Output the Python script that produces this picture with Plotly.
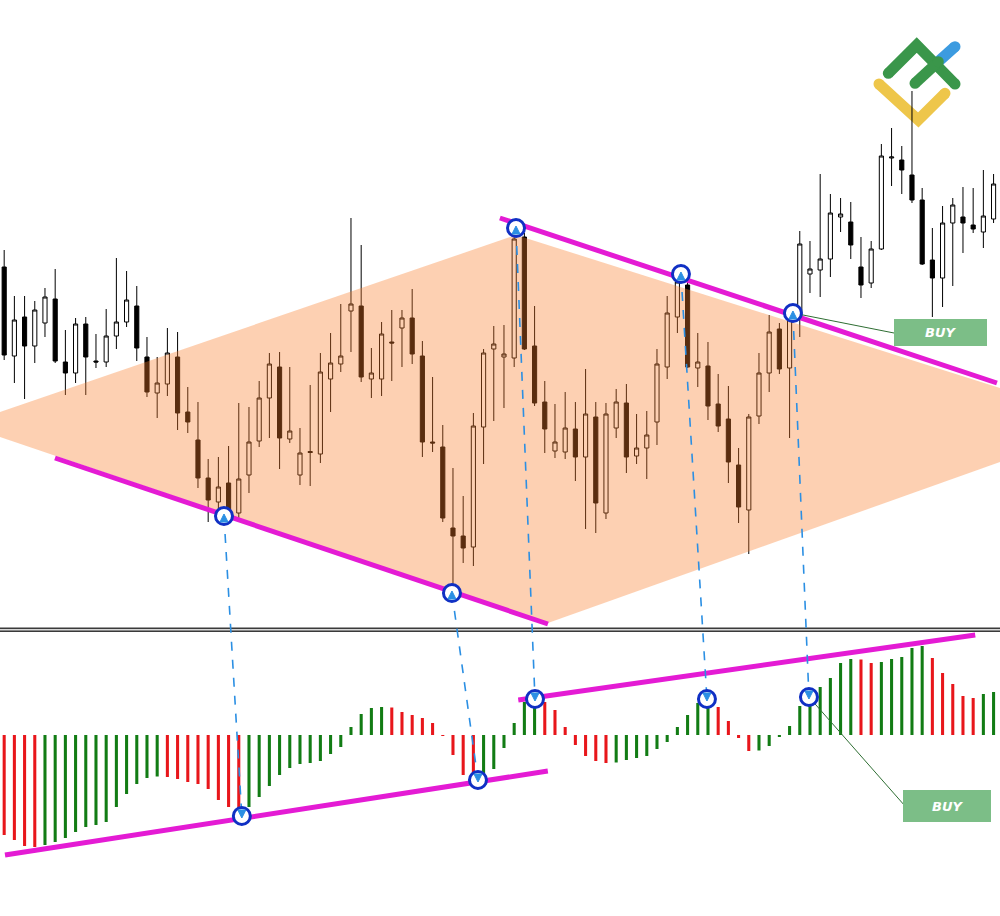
import plotly.graph_objects as go

# ---------------- data ----------------
# price candles (arbitrary price units)
opens = [733, 644, 683, 654, 677, 701, 638, 627, 676, 639, 638, 664, 678, 694, 643, 607, 616, 643, 588, 560,
         522, 498, 517, 487, 525, 559, 602, 633, 561, 525, 548.5, 546, 621, 636, 689, 694, 621, 621, 658, 672,
         682, 644, 558, 553, 472, 464, 453, 573, 651, 643, 642, 763, 654, 598, 549, 548, 571, 543, 583, 487,
         572, 597, 544, 552, 578, 633, 683, 715, 632, 634, 596, 581, 535, 490, 584, 627, 671, 632, 684, 726,
         730, 741, 783, 778, 733, 717, 751, 842, 840, 825, 800, 740, 722, 777, 783, 775, 768, 781]
highs = [750, 704, 704, 699, 712, 731, 670, 682, 683, 666, 691, 742, 729, 714, 663, 643, 672, 668, 613, 598,
         541, 543, 554, 597, 593, 619, 647, 648, 633, 572, 615, 647, 667, 696, 782, 755, 652, 678, 690, 690,
         711, 659, 623, 575, 532, 504, 587, 651, 674, 675, 772, 767, 694, 619, 596, 608, 598, 631, 598, 597,
         611, 616, 586, 589, 651, 704, 725, 720, 667, 658, 626, 614, 552, 586, 647, 685, 677, 687, 769, 759,
         826, 806, 802, 798, 763, 759, 856, 872, 854, 909, 812, 772, 794, 802, 813, 812, 830, 826]
lows = [640, 617, 601, 637, 663, 637, 605, 617, 605, 632, 633, 651, 673, 639, 603, 582, 604, 570, 567, 512,
        478, 487, 482, 480, 507, 553, 562, 531, 557, 515, 514, 537, 588, 628, 648, 618, 602, 604, 619, 633,
        636, 543, 548, 478, 415, 437, 434, 536, 579, 592, 633, 650, 594, 547, 542, 541, 519, 471, 467, 481,
        562, 527, 536, 521, 555, 621, 667, 632, 613, 580, 568, 517, 477, 446, 576, 608, 626, 562, 663, 707,
        703, 723, 768, 741, 702, 712, 750, 814, 806, 797, 735, 683, 693, 714, 747, 767, 752, 777]
closes = [645, 680, 654, 690, 703, 639, 627, 676, 643, 638, 664, 678, 700, 652, 608, 617, 647, 587, 578, 522,
          500, 513, 491, 521, 558, 602, 636, 562, 569, 547, 547.5, 628, 637, 644, 696, 623, 627, 666, 657, 682,
          646, 558, 557, 482, 464, 452, 574, 647, 656, 646, 761, 651, 597, 571, 558, 572, 543, 586, 497, 586,
          598, 543, 552, 565, 636, 687, 718, 633, 638, 594, 574, 538, 493, 583, 627, 668, 631, 681, 756, 731,
          741, 787, 786, 755, 715, 751, 844, 843, 830, 800, 736, 722, 777, 795, 777, 771, 784, 816]

# oscillator histogram
ao_values = [-100, -105, -111, -112, -110, -107, -103, -97, -92, -90, -87, -72, -59, -49, -43, -41.5, -42, -44, -47, -49,
             -54, -65, -72, -78, -72, -62, -51, -40, -33, -29, -28, -26, -19, -12, 8, 21, 27, 28, 27.5, 23,
             20, 17, 12, -1, -20, -40, -45, -38, -34, -13, 12, 33, 35, 33, 25, 8, -10, -21, -26, -28,
             -27.5, -25, -23, -21, -14, -7, 8, 20, 32, 33, 28, 14, -3, -16, -15.5, -11, -2, 9, 29, 33,
             48, 57, 72, 76, 75.5, 72, 73, 76, 78, 87, 89, 77, 62, 51, 39, 37, 41, 43]
ao_dirs = "RRRR" + "G" * 12 + "R" * 8 + "G" * 14 + "R" * 9 + "G" * 6 + "R" * 7 + "G" * 10 + "R" * 4 + "G" * 10 + "RR" + "G" * 5 + "R" * 5 + "GG"

# channel / trend lines (bar index, value)
price_lines = [((4.98, 542), (53.31, 376)), ((48.6, 782), (97.33, 617))]
ao_lines = [((0.08, -120), (53.3, -36)), ((50.4, 35), (95.2, 100))]
# diamond zone (bar index, price)
zone_x = [-0.41, 50.18, 97.63, 97.63, 53.31, -0.41]
zone_y = [588, 765, 612, 538, 377, 563]
# divergence points: price point and oscillator point
price_pts = [(21.55, 484), (43.9, 407), (50.18, 772), (66.35, 726), (77.33, 687)]
ao_pts = [(23.3, -81), (46.45, -45), (52.04, 36), (68.9, 36), (78.9, 38)]
signal_label = "BUY"

# ---------------- layout helpers ----------------
W, H = 1000, 916
XR = [-0.41, 97.63]
Y1R = [372, 1000]
Y1D = [1 - 628 / H, 1]
Y2R = [-181, 103]
Y2D = [0, 284 / H]


def px_x(v):
    return (v - XR[0]) / (XR[1] - XR[0])


def py(v, rng, dom):
    return dom[0] + (v - rng[0]) / (rng[1] - rng[0]) * (dom[1] - dom[0])


def pp(x, y):  # pixel -> paper, decorations only
    return x / W, 1 - y / H


n = len(opens)
xs = list(range(n))

fig = go.Figure()
fig.add_trace(go.Candlestick(
    x=xs, open=opens, high=highs, low=lows, close=closes,
    increasing=dict(line=dict(color="black", width=1), fillcolor="white"),
    decreasing=dict(line=dict(color="black", width=1), fillcolor="black"),
    whiskerwidth=0, xaxis="x", yaxis="y", hoverinfo="skip", showlegend=False))

colors = ["#127C14" if d == "G" else "#E8161B" for d in ao_dirs]
fig.add_trace(go.Bar(x=xs, y=ao_values, marker=dict(color=colors, line=dict(width=0)),
                     width=0.3, xaxis="x", yaxis="y2", showlegend=False, hoverinfo="skip"))

shapes = []
# separator between panes
x0p, y0p = pp(0, 628.3)
_, y1p = pp(0, 631.3)
shapes.append(dict(type="rect", xref="paper", yref="paper", x0=0, x1=1, y0=y1p, y1=y0p,
                   fillcolor="#d6d6d6", line=dict(width=0), layer="below"))
for yy in (628.3, 631.3):
    shapes.append(dict(type="line", xref="paper", yref="paper", x0=0, x1=1, y0=pp(0, yy)[1], y1=pp(0, yy)[1],
                       line=dict(color="#3a3a3a", width=1.4)))

# logo (decoration) drawn below the candles
LOGO_AX, LOGO_AY = pp(918, 83)


def logo_stroke(pts, color, w=11):
    path = "M " + " L ".join(f"{x - 918:.1f},{83 - y:.1f}" for x, y in pts)
    shapes.append(dict(type="path", xref="paper", yref="paper", xsizemode="pixel", ysizemode="pixel",
                       xanchor=LOGO_AX, yanchor=LOGO_AY, path=path, line=dict(color=color, width=w),
                       layer="below"))
    r = w / 2
    for x, y in (pts[0], pts[-1]):
        shapes.append(dict(type="circle", xref="paper", yref="paper", xsizemode="pixel", ysizemode="pixel",
                           xanchor=LOGO_AX, yanchor=LOGO_AY, x0=x - 918 - r, x1=x - 918 + r,
                           y0=83 - y - r, y1=83 - y + r, fillcolor=color, line=dict(width=0), layer="below"))


logo_stroke([(879, 84), (918.3, 120), (945, 93.3)], "#EEC64A")
logo_stroke([(938.3, 61.7), (955, 46.7)], "#3C9BE0")
logo_stroke([(888.3, 73.3), (916.7, 45), (955, 84)], "#3A964A")
logo_stroke([(915, 83.3), (938.3, 61.7)], "#3A964A")

# diamond zone, translucent, above the candles
zpath = "M " + " L ".join(f"{x},{y}" for x, y in zip(zone_x, zone_y)) + " Z"
shapes.append(dict(type="path", xref="x", yref="y", path=zpath, fillcolor="rgba(250,125,42,0.36)",
                   line=dict(width=0), layer="above"))

MAG = "#E41BD4"
for (a, b) in price_lines:
    shapes.append(dict(type="line", xref="x", yref="y", x0=a[0], y0=a[1], x1=b[0], y1=b[1],
                       line=dict(color=MAG, width=5), layer="above"))
for (a, b) in ao_lines:
    shapes.append(dict(type="line", xref="x", yref="y2", x0=a[0], y0=a[1], x1=b[0], y1=b[1],
                       line=dict(color=MAG, width=5), layer="above"))

BLUE_L = "#2B8FE3"
# dashed connectors
for (p, q) in zip(price_pts, ao_pts):
    shapes.append(dict(type="line", xref="paper", yref="paper",
                       x0=px_x(p[0]), y0=py(p[1], Y1R, Y1D), x1=px_x(q[0]), y1=py(q[1], Y2R, Y2D),
                       line=dict(color=BLUE_L, width=1.6, dash="dash"), layer="above"))

# BUY connectors
bx1 = pp(894, 333)
bx2 = pp(905, 806)
p = price_pts[-1]
q = ao_pts[-1]
shapes.append(dict(type="line", xref="paper", yref="paper", x0=px_x(p[0]), y0=py(p[1], Y1R, Y1D),
                   x1=bx1[0], y1=bx1[1], line=dict(color="#2F6E33", width=1), layer="above"))
shapes.append(dict(type="line", xref="paper", yref="paper", x0=px_x(q[0]), y0=py(q[1], Y2R, Y2D),
                   x1=bx2[0], y1=bx2[1], line=dict(color="#2F6E33", width=1), layer="above"))


def marker(xv, yv, yref, up):
    shapes.append(dict(type="circle", xref="x", yref=yref, xsizemode="pixel", ysizemode="pixel",
                       xanchor=xv, yanchor=yv, x0=-8.5, x1=8.5, y0=-8.5, y1=8.5,
                       fillcolor="white", line=dict(color="#1030C4", width=3), layer="above"))
    tri = "M -4,-6 L 4,-6 L 0,2 Z" if up else "M -4,6 L 4,6 L 0,-2 Z"
    shapes.append(dict(type="path", xref="x", yref=yref, xsizemode="pixel", ysizemode="pixel",
                       xanchor=xv, yanchor=yv, path=tri, fillcolor=BLUE_L,
                       line=dict(color=BLUE_L, width=1), layer="above"))


for p in price_pts:
    marker(p[0], p[1], "y", True)
for q in ao_pts:
    marker(q[0], q[1], "y2", False)

# BUY boxes
annotations = []
for (l, t, r, b) in [(894, 319, 987, 346), (903, 790, 991, 822)]:
    a = pp(l, t)
    c = pp(r, b)
    shapes.append(dict(type="rect", xref="paper", yref="paper", x0=a[0], x1=c[0], y0=c[1], y1=a[1],
                       fillcolor="#7CBE87", line=dict(width=0), layer="above"))
    annotations.append(dict(xref="paper", yref="paper", x=(a[0] + c[0]) / 2, y=(a[1] + c[1]) / 2,
                            xanchor="center", yanchor="middle",
                            text=signal_label, showarrow=False,
                            font=dict(family="DejaVu Sans", size=13, color="white", style="italic",
                                      weight="bold")))

fig.update_layout(
    width=W, height=H, margin=dict(l=0, r=0, t=0, b=0),
    paper_bgcolor="white", plot_bgcolor="white", boxgap=0.42,
    showlegend=False, shapes=shapes, annotations=annotations,
    xaxis=dict(range=XR, visible=False, showgrid=False, zeroline=False, rangeslider=dict(visible=False),
               anchor="y"),
    yaxis=dict(range=Y1R, domain=Y1D, visible=False, showgrid=False, zeroline=False),
    yaxis2=dict(range=Y2R, domain=Y2D, visible=False, showgrid=False, zeroline=False, anchor="x"),
)

fig.write_html("out.html", config={"displayModeBar": False},
               post_script="document.body.style.margin='0';document.body.style.padding='0';")
